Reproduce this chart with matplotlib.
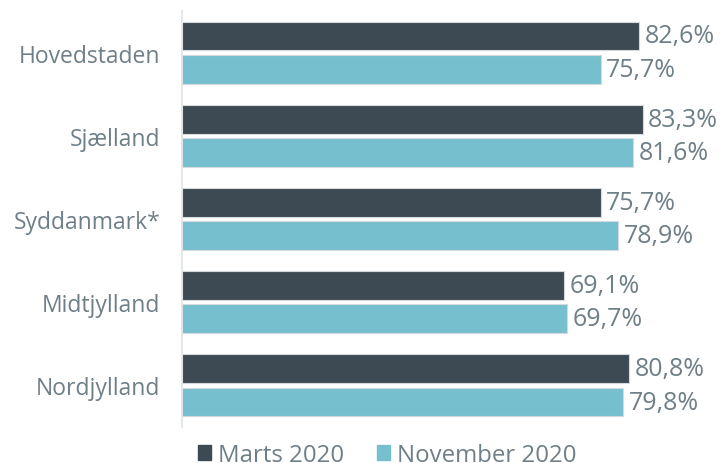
import matplotlib
matplotlib.use("Agg")
import matplotlib.pyplot as plt
from matplotlib.patches import Patch

# data
regions = ["Hovedstaden", "Sjælland", "Syddanmark*", "Midtjylland", "Nordjylland"]
marts_2020 = [82.6, 83.3, 75.7, 69.1, 80.8]
november_2020 = [75.7, 81.6, 78.9, 69.7, 79.8]
series_labels = ["Marts 2020", "November 2020"]

dark = "#3e4a53"
light = "#75bfcf"
text_col = "#6e7f88"

plt.rcParams["font.family"] = ["Open Sans", "DejaVu Sans"]

fig = plt.figure(figsize=(7.2, 4.64), dpi=100)
ax = fig.add_axes([182 / 720, 36 / 464, 538 / 720, 416 / 464])

pos = list(range(len(regions)))
h = 0.345
off = 0.2
ax.barh([p - off for p in pos], marts_2020, height=h, color=dark,
        edgecolor="#d3d9dc", linewidth=0.8)
ax.barh([p + off for p in pos], november_2020, height=h, color=light,
        edgecolor="#d3d9dc", linewidth=0.8)

for p, v in zip(pos, marts_2020):
    ax.text(v + 1.0, p - off, f"{v:.1f}%".replace(".", ","), va="center",
            ha="left", fontsize=18, color=text_col)
for p, v in zip(pos, november_2020):
    ax.text(v + 1.0, p + off, f"{v:.1f}%".replace(".", ","), va="center",
            ha="left", fontsize=18, color=text_col)

ax.set_xlim(0, 538 / 5.53)
ax.set_ylim(len(regions) - 0.5, -0.5)
ax.set_yticks(pos)
ax.set_yticklabels(regions, fontsize=16.5, color=text_col)
ax.tick_params(axis="y", length=0, pad=15.5)
ax.set_xticks([])
for s in ["top", "right", "bottom"]:
    ax.spines[s].set_visible(False)
ax.spines["left"].set_color("#dfe4e6")
ax.spines["left"].set_linewidth(1.2)

handles = [Patch(color=dark), Patch(color=light)]
fig.legend(handles, series_labels, loc="center left",
           bbox_to_anchor=(188 / 720, 1 - 456 / 464), ncol=2, frameon=False,
           fontsize=17.3, labelcolor=text_col, handlelength=0.55, handleheight=0.55,
           handletextpad=0.3, columnspacing=1.35, borderaxespad=0)

fig.savefig("out.png", dpi=100)
